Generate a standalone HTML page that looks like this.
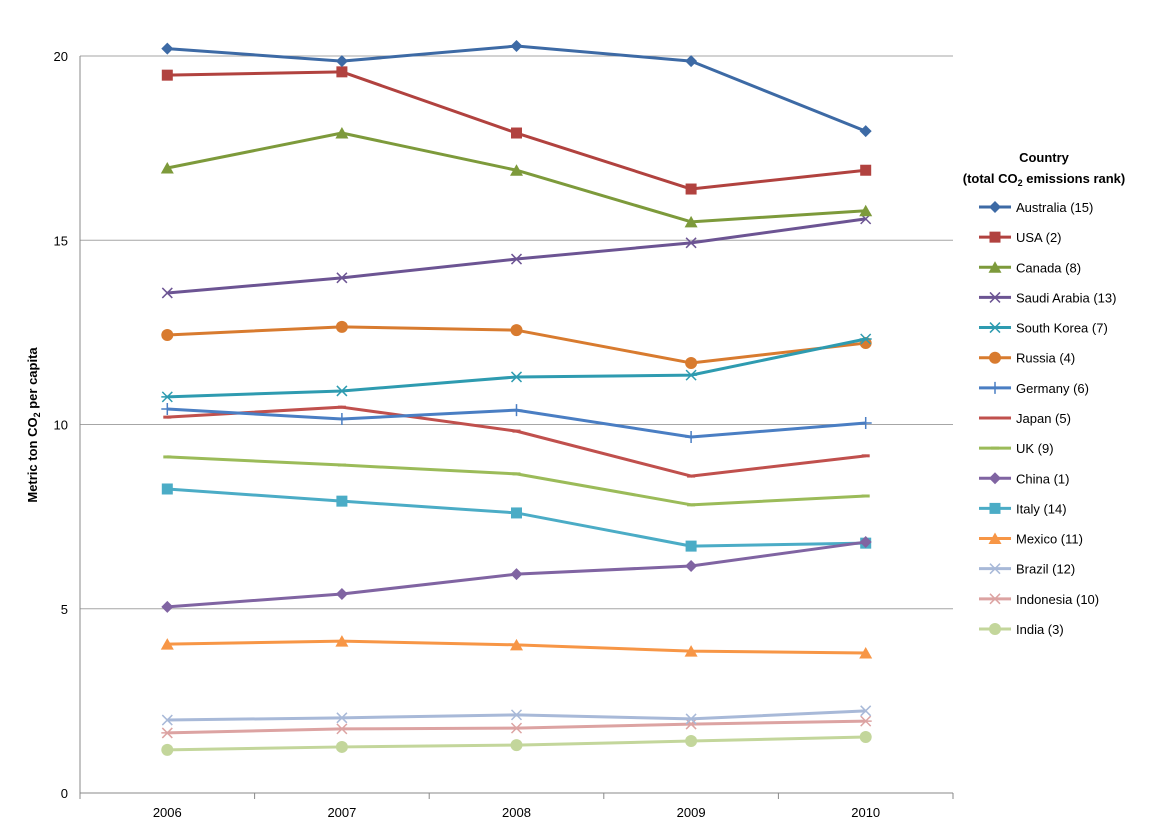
<!DOCTYPE html>
<html><head><meta charset="utf-8"><style>
body{margin:0;background:#fff;font-family:"Liberation Sans",sans-serif}
svg text{font-family:"Liberation Sans",sans-serif;fill:#000}
</style></head><body>
<svg id="c" width="1152" height="835" xmlns="http://www.w3.org/2000/svg"></svg>
<script>
const years=["2006","2007","2008","2009","2010"];
const yTicks=[0,5,10,15,20];
const names=["Australia (15)","USA (2)","Canada (8)","Saudi Arabia (13)","South Korea (7)","Russia (4)","Germany (6)","Japan (5)","UK (9)","China (1)","Italy (14)","Mexico (11)","Brazil (12)","Indonesia (10)","India (3)"];
const australia=[20.2,19.86,20.27,19.86,17.96];
const usa=[19.48,19.57,17.91,16.39,16.9];
const canada=[16.96,17.91,16.9,15.5,15.8];
const saudi=[13.57,13.98,14.49,14.93,15.58];
const korea=[10.75,10.91,11.29,11.34,12.32];
const russia=[12.43,12.65,12.56,11.67,12.21];
const germany=[10.42,10.15,10.39,9.66,10.04];
const japan=[10.2,10.47,9.82,8.6,9.15];
const uk=[9.12,8.9,8.66,7.82,8.06];
const china=[5.05,5.4,5.94,6.16,6.81];
const italy=[8.25,7.92,7.6,6.7,6.78];
const mexico=[4.04,4.12,4.02,3.85,3.8];
const brazil=[1.98,2.04,2.12,2.01,2.23];
const indonesia=[1.63,1.74,1.76,1.87,1.95];
const india=[1.17,1.25,1.3,1.41,1.52];
const series=[australia,usa,canada,saudi,korea,russia,germany,japan,uk,china,italy,mexico,brazil,indonesia,india];
const colors=["#3d6aa5","#b1423f","#7d9a3b","#6c5493","#2e9bb0","#d87b2f","#4a7ec3","#c0504d","#9bbb59","#8064a2","#4bacc6","#f79646","#a8b9d8","#dca3a2","#c3d69b"];
const markers=["diamond","square","triangle","x","star","circle","plus","dash","dash","diamond","square","triangle","x","star","circle"];
const svg=document.getElementById('c');const NS="http://www.w3.org/2000/svg";
function el(t,a,p){const e=document.createElementNS(NS,t);for(const k in a)e.setAttribute(k,a[k]);(p||svg).appendChild(e);return e;}
const L=80,R=953,T=56,B=793;
const xs=i=>L+(R-L)/years.length*(i+0.5);
const ys=v=>B-(B-T)*v/20;
yTicks.forEach(v=>{
 const g=el('line',{x1:L,x2:R,y1:ys(v),y2:ys(v),stroke:v===0?'#888':'#a6a6a6','stroke-width':1});
 
 const t=el('text',{x:68,y:ys(v)+5,'text-anchor':'end','font-size':13});t.textContent=v;
 
});
const ax=el('line',{x1:L,x2:L,y1:T,y2:B,stroke:'#888'});
for(let i=0;i<=years.length;i++){const x=L+(R-L)/years.length*i;const tk=el('line',{x1:x,x2:x,y1:B,y2:B+6,stroke:'#888'});}
years.forEach((y,i)=>{const t=el('text',{x:xs(i),y:B+24,'text-anchor':'middle','font-size':13});t.textContent=y;});
const yt=el('text',{transform:'translate(37,425) rotate(-90)','text-anchor':'middle','font-size':13,'font-weight':'bold'});
yt.innerHTML='Metric ton CO<tspan font-size="9" dy="3">2</tspan><tspan dy="-3"> per capita</tspan>';

function marker(m,x,y,c,g){
 const s=6;
 if(m==='diamond')el('polygon',{points:`${x},${y-s} ${x+s},${y} ${x},${y+s} ${x-s},${y}`,fill:c},g);
 else if(m==='square')el('rect',{x:x-5.5,y:y-5.5,width:11,height:11,fill:c},g);
 else if(m==='triangle')el('polygon',{points:`${x},${y-6} ${x+6.5},${y+5.5} ${x-6.5},${y+5.5}`,fill:c},g);
 else if(m==='circle')el('circle',{cx:x,cy:y,r:6,fill:c},g);
 else if(m==='x')el('path',{d:`M${x-5} ${y-5}L${x+5} ${y+5}M${x-5} ${y+5}L${x+5} ${y-5}`,stroke:c,'stroke-width':1.5},g);
 else if(m==='star')el('path',{d:`M${x-5} ${y-5}L${x+5} ${y+5}M${x-5} ${y+5}L${x+5} ${y-5}M${x-6} ${y}L${x+6} ${y}`,stroke:c,'stroke-width':1.5},g);
 else if(m==='plus')el('path',{d:`M${x-6} ${y}L${x+6} ${y}M${x} ${y-6}L${x} ${y+6}`,stroke:c,'stroke-width':1.5},g);
 else if(m==='dash')el('path',{d:`M${x-4} ${y}L${x+4} ${y}`,stroke:c,'stroke-width':3},g);
}
for(let k=series.length-1;k>=0;k--){
 const g=el('g',{});
 const d=series[k].map((v,i)=>(i?'L':'M')+xs(i)+' '+ys(v)).join('');
 el('path',{d:d,fill:'none',stroke:colors[k],'stroke-width':3,'stroke-linejoin':'round'},g);
 series[k].forEach((v,i)=>marker(markers[k],xs(i),ys(v),colors[k],g));
}
const lg=el('g',{});
const t1=el('text',{x:1044,y:162,'text-anchor':'middle','font-size':13,'font-weight':'bold'},lg);t1.textContent='Country';
const t2=el('text',{x:1044,y:183,'text-anchor':'middle','font-size':13,'font-weight':'bold'},lg);
t2.innerHTML='(total CO<tspan font-size="9" dy="3">2</tspan><tspan dy="-3"> emissions rank)</tspan>';
names.forEach((n,k)=>{
 const y=207+k*30.14;
 const g=el('g',{},lg);
 el('line',{x1:979,x2:1011,y1:y,y2:y,stroke:colors[k],'stroke-width':3},g);
 marker(markers[k],995,y,colors[k],g);
 const t=el('text',{x:1016,y:y+5,'font-size':13},g);t.textContent=n;
});
</script>
</body></html>
